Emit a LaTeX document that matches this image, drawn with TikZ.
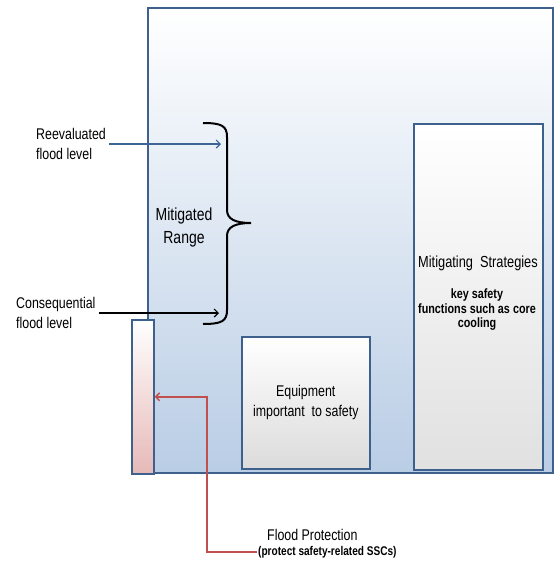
\documentclass[tikz,border=0pt]{standalone}
\usepackage{fontspec}
\setmainfont{Liberation Sans}[FakeStretch=0.8]
\usetikzlibrary{arrows.meta, positioning}

\definecolor{boxline}{RGB}{62,96,140}
\definecolor{floodblue}{RGB}{185,205,229}
\definecolor{floodpink}{RGB}{230,185,184}
\definecolor{levelblue}{RGB}{60,100,150}
\definecolor{protred}{RGB}{192,80,77}

\begin{document}
\begin{tikzpicture}[x=1pt, y=-1pt,
    box/.style={draw=boxline, line width=1.6pt, inner sep=0pt, anchor=north west},
    lbl/.style={font=\fontsize{15.5}{20}\selectfont, align=left, inner sep=3pt},
    note/.style={font=\bfseries\fontsize{13.5}{14.5}\selectfont, align=center},
    lvl/.style={-{Straight Barb[length=4pt, width=8pt]}, line width=1.2pt}]
    \useasboundingbox (0,0) rectangle (555,563);
    \node[box, minimum width=405, minimum height=465, top color=white, bottom color=floodblue] (site) at (147,7) {};
    \node[box, minimum width=22, minimum height=154, top color=white, bottom color=floodpink] (wall) at (131,319) {};
    \node[box, minimum width=128, minimum height=132, top color=white, bottom color=black!14,
        font=\fontsize{15.5}{20}\selectfont, align=center] (equip) at (241,336) {Equipment\\important\ \ to safety};
    \node[box, minimum width=129, minimum height=346, top color=white, bottom color=black!12] (mitig) at (413,123) {};
    \node[font=\fontsize{16}{20}\selectfont] (strat) at (478,263) {Mitigating\ \ Strategies};
    \node[note] (keyfn) at (477,310) {key safety\\functions such as core\\cooling};

    \draw[line width=2pt] (203,123) .. controls (222,123) and (227,126) .. (227,137) -- (227,210)
        .. controls (227,219) and (235,223) .. (251,223) .. controls (235,223) and (227,227) .. (227,236)
        -- (227,310) .. controls (227,321) and (222,324) .. (203,324);
    \node[lbl, font=\fontsize{17.5}{23}\selectfont, align=center] (range) at (184,227) {Mitigated\\Range};

    \node[lbl, anchor=west] (reeval) at (33,144) {Reevaluated\\flood level};
    \node[lbl, anchor=west] (conseq) at (13,313) {Consequential\\flood level};
    \coordinate (rtip) at (221,144);
    \coordinate (ctip) at (219,313);
    \draw[lvl, levelblue] (reeval.east) -- (rtip);
    \draw[lvl, black] (conseq.east) -- (ctip);

    \node[lbl, anchor=west, inner sep=0pt] (fp) at (267,535) {Flood Protection};
    \node[font=\bfseries\fontsize{12.6}{13}\selectfont, anchor=west, inner sep=1pt] (prot) at (257,552) {(protect safety-related SSCs)};
    \coordinate (bend) at (207,552);
    \draw[lvl, protred, line width=1.5pt] (prot.west) -- (bend) |- (wall.east);
\end{tikzpicture}
\end{document}
